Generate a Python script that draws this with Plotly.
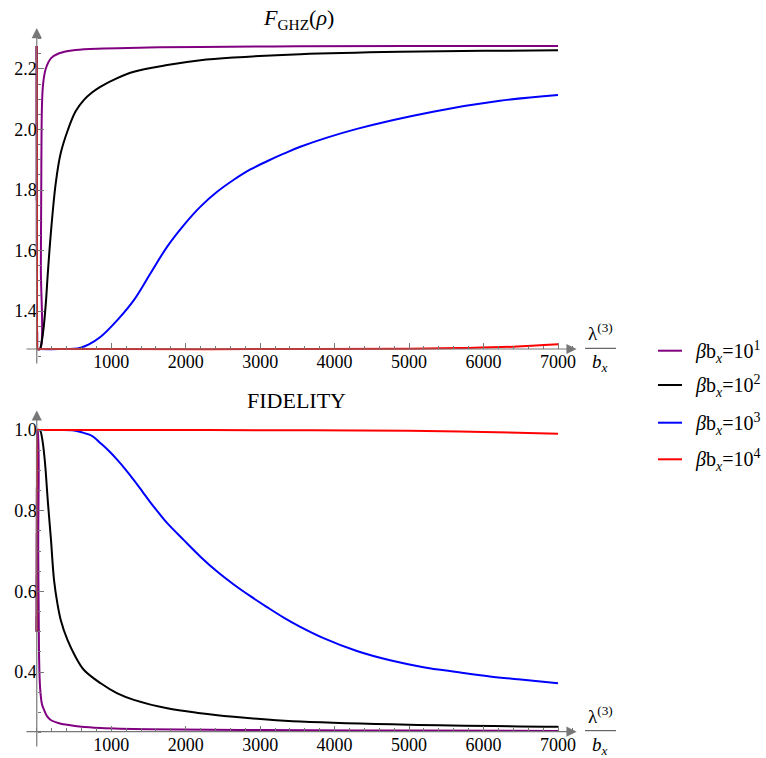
import plotly.graph_objects as go

# ---------------- data ----------------
series_names = ["βb<sub>x</sub>=10<sup>1</sup>", "βb<sub>x</sub>=10<sup>2</sup>",
                "βb<sub>x</sub>=10<sup>3</sup>", "βb<sub>x</sub>=10<sup>4</sup>"]
legend_labels = ["<i>β</i>b<sub><i>x</i></sub>=10<sup>1</sup>",
                 "<i>β</i>b<sub><i>x</i></sub>=10<sup>2</sup>",
                 "<i>β</i>b<sub><i>x</i></sub>=10<sup>3</sup>",
                 "<i>β</i>b<sub><i>x</i></sub>=10<sup>4</sup>"]
colors = ["#800080", "#000000", "#0000ff", "#ff0000"]

# Top panel: F_GHZ(rho)
ghz_lam_1 = [0, 4, 45, 55, 62, 70, 85, 120, 190, 300, 520, 900, 1500, 2200, 3500, 5000, 7000]
ghz_val_1 = [2.276, 1.274, 1.274, 1.55, 1.90, 2.08, 2.15, 2.20, 2.235, 2.252, 2.263, 2.268, 2.271, 2.273, 2.275, 2.276, 2.276]

ghz_lam_2 = [0, 4, 40, 60, 90, 120, 150, 190, 255, 322, 420, 522, 634, 746, 858, 1081, 1304, 1752, 2198, 2646, 3539, 4879, 6000, 7000]
ghz_val_2 = [2.276, 1.274, 1.274, 1.29, 1.34, 1.42, 1.53, 1.66, 1.823, 1.922, 2.0, 2.06, 2.098, 2.123, 2.142, 2.17, 2.191, 2.213, 2.229, 2.238, 2.249, 2.257, 2.26, 2.262]

ghz_lam_3 = [0, 4, 300, 500, 590, 700, 858, 1082, 1304, 1528, 1752, 1975, 2198, 2422, 2641, 2869, 3092, 3316, 3539, 4299, 5322, 6220, 7000]
ghz_val_3 = [2.276, 1.274, 1.274, 1.275, 1.279, 1.29, 1.315, 1.37, 1.436, 1.525, 1.613, 1.684, 1.745, 1.794, 1.833, 1.868, 1.895, 1.920, 1.943, 2.002, 2.059, 2.095, 2.114]

ghz_lam_4 = [0, 4, 1000, 3000, 5000, 5800, 6400, 7000]
ghz_val_4 = [2.276, 1.274, 1.274, 1.274, 1.2755, 1.278, 1.282, 1.29]

# Bottom panel: FIDELITY
fid_lam_1 = [0, 3, 10, 20, 30, 45, 70, 98, 140, 188, 300, 411, 600, 858, 1500, 3000, 5000, 7000]
fid_val_1 = [0.5, 1.0, 1.0, 0.70, 0.45, 0.36, 0.32, 0.306, 0.29, 0.281, 0.273, 0.269, 0.264, 0.261, 0.258, 0.256, 0.255, 0.254]

fid_lam_2 = [0, 4, 40, 54, 80, 110, 150, 190, 232, 277, 322, 411, 520, 634, 858, 1082, 1304, 1752, 2198, 2645, 3092, 3539, 5000, 7000]
fid_val_2 = [0.5, 1.0, 1.0, 0.995, 0.97, 0.92, 0.82, 0.73, 0.628, 0.57, 0.529, 0.48, 0.438, 0.405, 0.372, 0.347, 0.331, 0.31, 0.298, 0.289, 0.282, 0.277, 0.269, 0.264]

fid_lam_3 = [0, 4, 300, 500, 590, 746, 858, 970, 1082, 1193, 1304, 1417, 1528, 1640, 1752, 1975, 2198, 2422, 2645, 2869, 3092, 3316, 3539, 3851, 4299, 4745, 5192, 5639, 6086, 6532, 7000]
fid_val_3 = [0.5, 1.0, 1.0, 0.999, 0.995, 0.985, 0.967, 0.948, 0.926, 0.902, 0.876, 0.848, 0.820, 0.794, 0.769, 0.727, 0.686, 0.649, 0.617, 0.588, 0.561, 0.535, 0.512, 0.484, 0.452, 0.429, 0.412, 0.40, 0.389, 0.381, 0.372]

fid_lam_4 = [0, 4, 1000, 3000, 5000, 6000, 7000]
fid_val_4 = [0.5, 1.0, 1.0, 0.9995, 0.998, 0.995, 0.991]

x_ticks = [1000, 2000, 3000, 4000, 5000, 6000, 7000]
ghz_ticks = [1.4, 1.6, 1.8, 2.0, 2.2]
fid_ticks = [0.4, 0.6, 0.8, 1.0]

top_title = "<i>F</i><sub>GHZ</sub>(<i>ρ</i>)"
bottom_title = "FIDELITY"

# ---------------- figure ----------------
W, H = 766, 758
FONT = "Liberation Serif, Times New Roman, serif"
AXC = "#777777"


def px(x):
    return x / W


def py(y):
    return 1 - y / H


x_range = [-158, 7255]
x_dom = [px(25), px(577)]
y0_paper = px(36.8)

top_axis_val = 1.2744
top_range = [1.2215, 2.3365]
top_dom = [py(365), py(27.7)]

bot_axis_val = 0.252
bot_range = [0.2116, 1.0496]
bot_dom = [py(748), py(410)]

fig = go.Figure()

top_series = [(ghz_lam_1, ghz_val_1), (ghz_lam_2, ghz_val_2), (ghz_lam_3, ghz_val_3), (ghz_lam_4, ghz_val_4)]
bot_series = [(fid_lam_1, fid_val_1), (fid_lam_2, fid_val_2), (fid_lam_3, fid_val_3), (fid_lam_4, fid_val_4)]


def add_series(series, xa, ya):
    # the jump at lambda = 0 is drawn straight, the rest of each curve smoothed
    for i, (lx, vy) in enumerate(series):
        fig.add_trace(go.Scatter(x=lx[:2], y=vy[:2], mode="lines", name=series_names[i],
                                 line=dict(color=colors[i], width=2),
                                 xaxis=xa, yaxis=ya, showlegend=False, hoverinfo="skip"))
    for i, (lx, vy) in enumerate(series):
        fig.add_trace(go.Scatter(x=lx[1:], y=vy[1:], mode="lines", name=series_names[i],
                                 line=dict(color=colors[i], width=2, shape="spline", smoothing=1.0),
                                 xaxis=xa, yaxis=ya, showlegend=False))


add_series(top_series, "x", "y")
add_series(bot_series, "x2", "y2")

common_x = dict(range=x_range, domain=x_dom, anchor="free", showgrid=False, zeroline=False,
                showline=False, tickvals=x_ticks, ticktext=[str(v) for v in x_ticks],
                ticks="inside", ticklen=6, tickwidth=1, tickcolor=AXC,
                minor=dict(dtick=200, tick0=0, ticks="inside", ticklen=3.5, tickwidth=1, tickcolor=AXC),
                tickfont=dict(family=FONT, size=18, color="black"), fixedrange=True)
common_y = dict(anchor="free", position=y0_paper, showgrid=False, zeroline=False, showline=False,
                ticks="inside", ticklen=6, tickwidth=1, tickcolor=AXC,
                tickfont=dict(family=FONT, size=18, color="black"), fixedrange=True)

fig.update_layout(
    width=W, height=H, margin=dict(l=0, r=0, t=0, b=0, autoexpand=False),
    paper_bgcolor="white", plot_bgcolor="rgba(0,0,0,0)",
    font=dict(family=FONT, color="black"),
    xaxis=dict(common_x, position=py(349)),
    yaxis=dict(common_y, range=top_range, domain=top_dom, tickvals=ghz_ticks,
               ticktext=["%.1f" % v for v in ghz_ticks],
               minor=dict(dtick=0.05, tick0=0, ticks="inside", ticklen=3.5, tickwidth=1, tickcolor=AXC)),
    xaxis2=dict(common_x, position=py(731.7)),
    yaxis2=dict(common_y, range=bot_range, domain=bot_dom, tickvals=fid_ticks,
                ticktext=["%.1f" % v for v in fid_ticks],
                minor=dict(dtick=0.05, tick0=0, ticks="inside", ticklen=3.5, tickwidth=1, tickcolor=AXC)),
    showlegend=False,
)

annotations = []
shapes = []

# axis lines with arrowheads
for xr, yr, axis_val, rng in [("x", "y", top_axis_val, top_range), ("x2", "y2", bot_axis_val, bot_range)]:
    annotations.append(dict(xref=xr, yref=yr, axref=xr, ayref=yr, x=7250, y=axis_val,
                            ax=x_range[0], ay=axis_val, text="", showarrow=True,
                            arrowhead=2, arrowsize=1.7, arrowwidth=1.2, arrowcolor=AXC, standoff=0))
    annotations.append(dict(xref=xr, yref=yr, axref=xr, ayref=yr, x=0, y=rng[1] - 0.001,
                            ax=0, ay=rng[0], text="", showarrow=True,
                            arrowhead=2, arrowsize=1.7, arrowwidth=1.2, arrowcolor=AXC, standoff=0))

# panel titles
annotations.append(dict(xref="paper", yref="paper", x=px(298), y=py(19), text=top_title,
                        showarrow=False, font=dict(family=FONT, size=22, color="black"),
                        xanchor="center", yanchor="middle"))
annotations.append(dict(xref="paper", yref="paper", x=px(296), y=py(400), text=bottom_title,
                        showarrow=False, font=dict(family=FONT, size=22, color="black"),
                        xanchor="center", yanchor="middle"))

# x-axis labels: lambda^(3) / b_x
for bar_y in [348.3, 730.7]:
    annotations.append(dict(xref="paper", yref="paper", x=px(600), y=py(bar_y - 2), text="λ<sup>(3)</sup>",
                            showarrow=False, font=dict(family=FONT, size=19, color="black"),
                            xanchor="center", yanchor="bottom"))
    annotations.append(dict(xref="paper", yref="paper", x=px(600), y=py(bar_y + 1), text="<i>b<sub>x</sub></i>",
                            showarrow=False, font=dict(family=FONT, size=19, color="black"),
                            xanchor="center", yanchor="top"))
    shapes.append(dict(type="line", xref="paper", yref="paper", x0=px(585), x1=px(616),
                       y0=py(bar_y), y1=py(bar_y), line=dict(color="#444444", width=1)))

# legend
leg_y = [350.7, 385.0, 422.7, 459.3]
for i in range(4):
    shapes.append(dict(type="line", xref="paper", yref="paper", x0=px(658), x1=px(682),
                       y0=py(leg_y[i]), y1=py(leg_y[i]), line=dict(color=colors[i], width=2)))
    annotations.append(dict(xref="paper", yref="paper", x=px(693), y=py(leg_y[i] + 1), text=legend_labels[i],
                            showarrow=False, font=dict(family=FONT, size=20, color="black"),
                            xanchor="left", yanchor="middle"))

fig.update_layout(annotations=annotations, shapes=shapes)

fig.write_html("out.html", config={"displayModeBar": False},
               post_script="document.body.style.margin='0px';document.body.style.overflow='hidden';")
